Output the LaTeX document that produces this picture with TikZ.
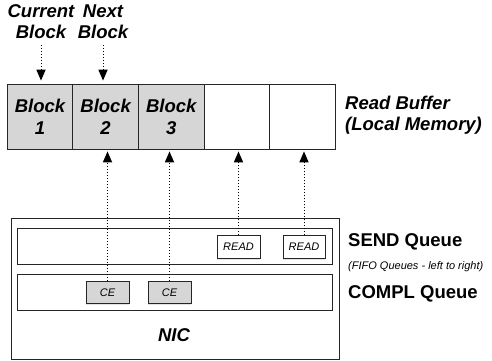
\documentclass[tikz,border=0pt]{standalone}
\usepackage{fontspec}
\setmainfont{Liberation Sans}
\usetikzlibrary{arrows.meta,shadows}
\definecolor{blockgray}{HTML}{D6D6D6}
\tikzset{
  shd/.style={drop shadow={shadow xshift=0.3pt,shadow yshift=-1.4pt,opacity=0.22}},
  bufbox/.style={draw=black!85, line width=0.9pt, fill=white, inner sep=0pt, minimum width=65.6pt, minimum height=65pt, align=center, shd,
    font=\fontsize{18.5}{22}\selectfont\bfseries\itshape},
  filled/.style={fill=blockgray},
  qbox/.style={draw=black!85, line width=0.9pt, fill=white, inner sep=0pt, shd},
  smallbox/.style={draw=black!85, line width=0.9pt, fill=white, inner sep=0pt, minimum height=22.5pt, shd,
    font=\fontsize{11}{13}\selectfont\itshape},
  biglabel/.style={inner sep=0pt, align=left, font=\fontsize{18.5}{21}\selectfont\bfseries\itshape},
  qlabel/.style={inner sep=0pt, anchor=west, font=\fontsize{18.5}{21}\selectfont\bfseries},
  ptr/.style={dotted, line width=1pt, -{Triangle[width=9.5pt,length=11pt,sep=0pt,line width=0pt]}}
}
\begin{document}
\begin{tikzpicture}[x=1pt,y=-1pt]
\useasboundingbox (0,0) rectangle (492,360);
% read buffer
\node[bufbox,filled] (b1) at (40,116.5) {Block\\1};
\node[bufbox,filled] (b2) at (105.6,116.5) {Block\\2};
\node[bufbox,filled] (b3) at (171.2,116.5) {Block\\3};
\node[bufbox] (b4) at (236.8,116.5) {};
\node[bufbox] (b5) at (302.4,116.5) {};
\node[biglabel,anchor=west] (rb) at (345,115) {Read Buffer\\(Local Memory)};
% pointers
\node[biglabel,align=center] (cur) at (41,22) {Current\\Block};
\node[biglabel,align=center] (nxt) at (103,22) {Next\\Block};
\draw[ptr] ([yshift=-6pt]cur.south) -- ([yshift=3pt]cur.south |- b1.north);
\draw[ptr] ([yshift=-6pt]nxt.south) -- ([yshift=3pt]nxt.south |- b2.north);
% NIC
\node[qbox,minimum width=328pt,minimum height=141pt] (nic) at (175,288.5) {};
\node[inner sep=0pt,font=\fontsize{18.5}{21}\selectfont\bfseries\itshape] (nictext) at (174,335) {NIC};
\node[qbox,minimum width=315pt,minimum height=36pt] (sendq) at (174.5,246) {};
\node[qbox,minimum width=315pt,minimum height=36pt] (complq) at (174.5,292) {};
\node[smallbox,minimum width=43pt] (r1) at (238.5,247) {READ};
\node[smallbox,minimum width=42pt] (r2) at (304,247) {READ};
\node[smallbox,minimum width=43pt,fill=blockgray] (ce1) at (107.5,292.5) {CE};
\node[smallbox,minimum width=43pt,fill=blockgray] (ce2) at (169.5,292.5) {CE};
\node[qlabel] (sendl) at (348,242) {SEND Queue};
\node[inner sep=0pt,anchor=west,font=\fontsize{11}{13}\selectfont\itshape] (fifo) at (348,267) {(FIFO Queues - left to right)};
\node[qlabel] (compll) at (348,294) {COMPL Queue};
% pointers from queue entries
\draw[ptr] (r1.north) -- ([yshift=-2pt]r1.north |- b4.south);
\draw[ptr] (r2.north) -- ([yshift=-2pt]r2.north |- b5.south);
\draw[ptr] (ce1.north) -- ([yshift=-2pt]ce1.north |- b2.south);
\draw[ptr] (ce2.north) -- ([yshift=-2pt]ce2.north |- b3.south);
\end{tikzpicture}
\end{document}
